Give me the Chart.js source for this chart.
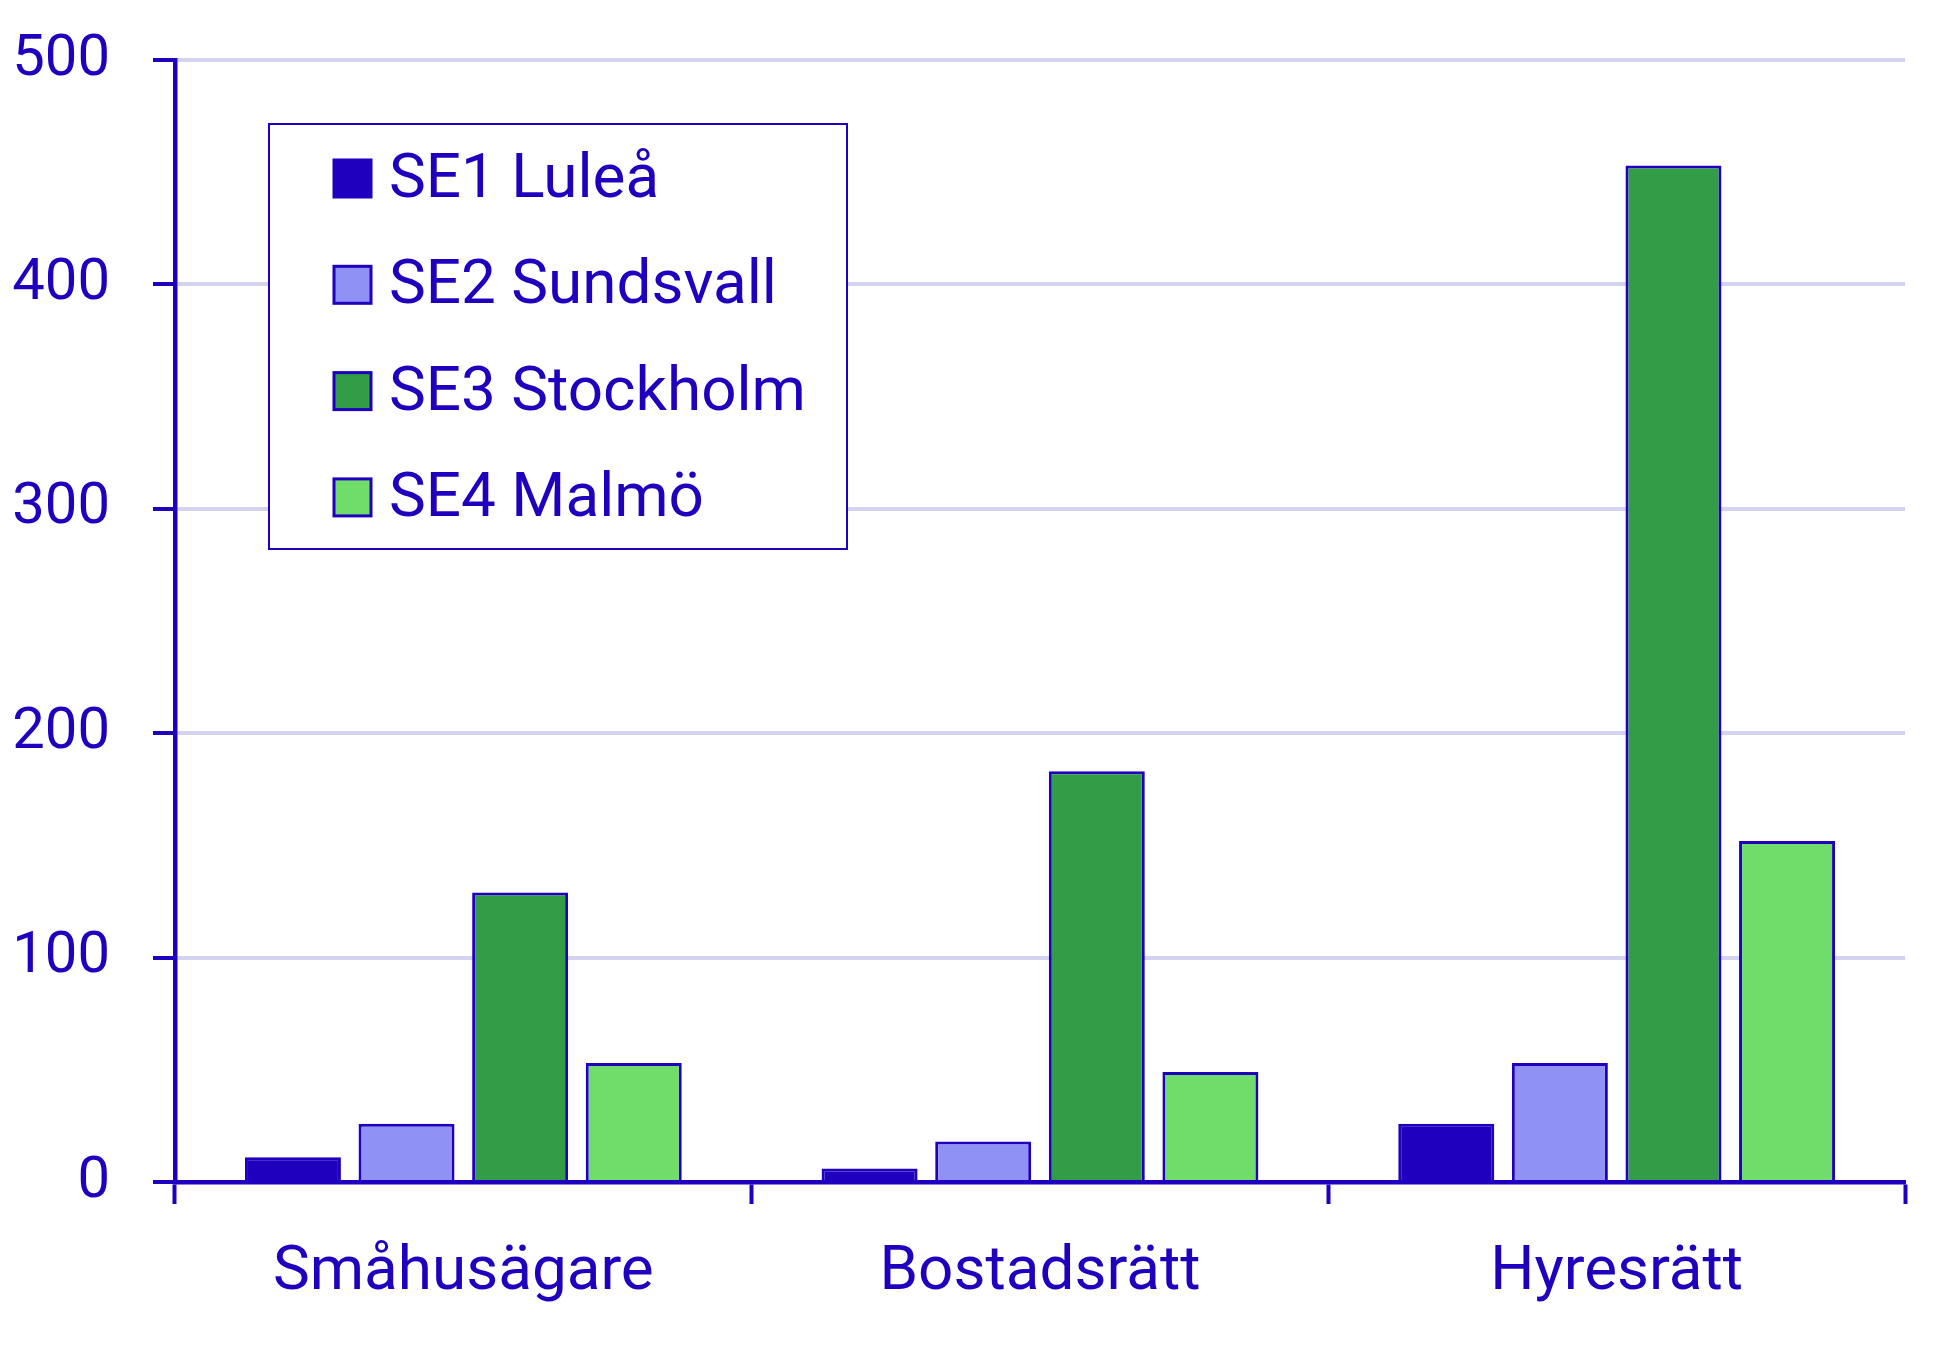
<!DOCTYPE html>
<html>
<head>
<meta charset="utf-8">
<script src="https://cdn.jsdelivr.net/npm/chart.js@4"></script>
<style>
    html, body { margin: 0; padding: 0; background: #ffffff; }
    #wrap { width: 1960px; height: 1355px; position: relative; }
</style>
</head>
<body>
<div id="wrap"><canvas id="output"></canvas></div>
<script>
const categories = ["Småhusägare", "Bostadsrätt", "Hyresrätt"];
const seriesNames = ["SE1 Luleå", "SE2 Sundsvall", "SE3 Stockholm", "SE4 Malmö"];
const lulea = [11, 6, 26];
const sundsvall = [26, 18, 53];
const stockholm = [129, 183, 453];
const malmo = [53, 49, 152];
const yTicks = [0, 100, 200, 300, 400, 500];

const ink = "#1e00be";
const fills = ["#1e00be", "#8f92f4", "#339c47", "#70dd6a"];
const grid = "#d3d3ef";

// legend box drawn inside the plot, like the original
const boxLegend = {
    id: "boxLegend",
    afterDatasetsDraw(chart) {
        const ctx = chart.ctx;
        ctx.save();
        ctx.fillStyle = "#ffffff";
        ctx.fillRect(269, 124, 578, 425);
        ctx.strokeStyle = ink;
        ctx.lineWidth = 2;
        ctx.strokeRect(269, 124, 578, 425);
        ctx.font = "62px Roboto";
        ctx.textBaseline = "alphabetic";
        chart.data.datasets.forEach((ds, i) => {
            const base = 197 + i * 106.3;
            ctx.fillStyle = ds.backgroundColor;
            ctx.fillRect(334, base - 37, 37, 37);
            ctx.strokeStyle = ink;
            ctx.lineWidth = 3;
            ctx.strokeRect(334, base - 37, 37, 37);
            ctx.fillStyle = ink;
            ctx.fillText(ds.label, 389, base);
        });
        ctx.restore();
    }
};

const values = [lulea, sundsvall, stockholm, malmo];

const chart = new Chart(document.getElementById("output"), {
    type: "bar",
    data: {
        labels: categories,
        datasets: values.map((v, i) => ({
            label: seriesNames[i],
            data: v,
            backgroundColor: fills[i],
            borderColor: ink,
            borderWidth: 3,
            categoryPercentage: 0.788,
            barPercentage: 0.845
        }))
    },
    options: {
        responsive: true,
        maintainAspectRatio: false,
        devicePixelRatio: 1,
        animation: false,
        layout: { padding: { top: 60, right: 55, left: 0, bottom: 0 } },
        plugins: {
            legend: { display: false },
            tooltip: { enabled: false }
        },
        scales: {
            x: {
                z: 1,
                grid: {
                    drawOnChartArea: false,
                    drawTicks: true,
                    tickLength: 22,
                    tickColor: ink,
                    tickWidth: 4,
                    offset: true
                },
                border: { color: ink, width: 4.5 },
                ticks: {
                    color: ink,
                    padding: 32,
                    font: { family: "Roboto", size: 62 }
                },
                afterFit: (axis) => { axis.height = 173; }
            },
            y: {
                min: 0,
                max: 500,
                afterBuildTicks: (axis) => { axis.ticks = yTicks.map(v => ({ value: v })); },
                grid: {
                    color: grid,
                    lineWidth: 4,
                    tickLength: 22,
                    tickColor: ink,
                    tickWidth: 4
                },
                border: { color: ink, width: 4.5 },
                ticks: {
                    color: ink,
                    padding: 43,
                    font: { family: "Roboto", size: 58 }
                },
                afterFit: (axis) => {
                    axis.width = 175;
                    axis.paddingTop = 0;
                    axis.paddingBottom = 0;
                }
            }
        }
    },
    plugins: [boxLegend]
});
</script>
</body>
</html>
